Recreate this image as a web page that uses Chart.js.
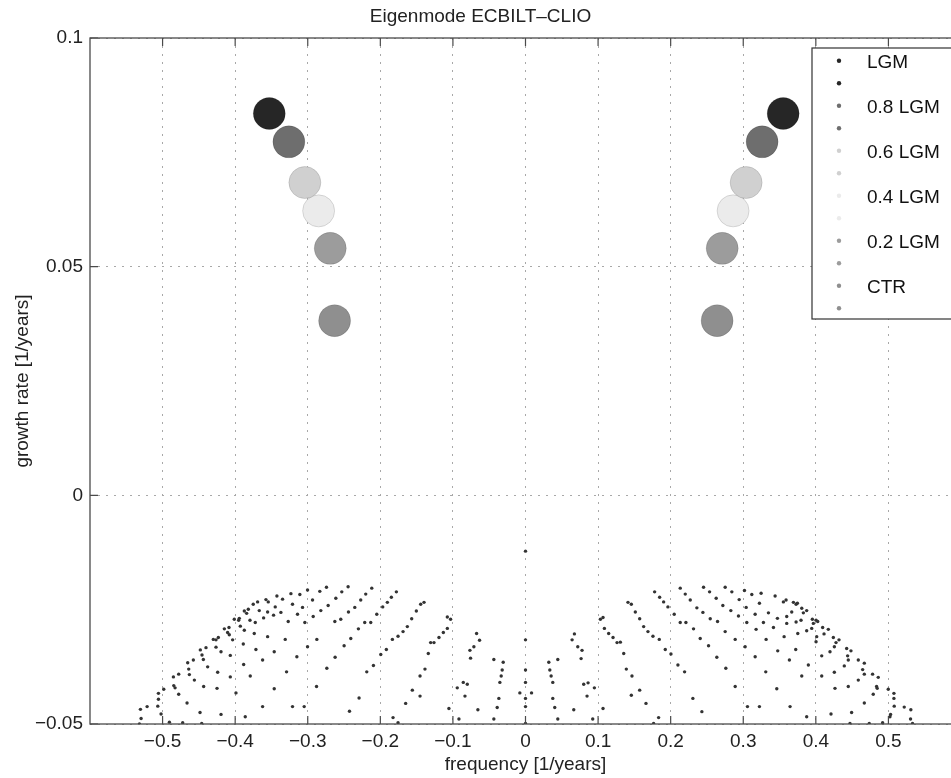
<!DOCTYPE html>
<html><head><meta charset="utf-8">
<script src="https://cdn.jsdelivr.net/npm/chart.js@4/dist/chart.umd.min.js"></script>
<style>
html,body{margin:0;padding:0;background:#fff;overflow:hidden;width:951px;height:778px}
#wrap{position:relative;width:1051px;height:778px}
canvas{display:block}
</style></head><body><div id="wrap"><canvas id="c" width="1051" height="778"></canvas></div>
<script>
const chartTitle = 'Eigenmode ECBILT\u2013CLIO';
const xTitle = 'frequency [1/years]';
const yTitle = 'growth rate [1/years]';
const xTickValues = [-0.5,-0.4,-0.3,-0.2,-0.1,0,0.1,0.2,0.3,0.4,0.5];
const xTickLabels = ['\u22120.5','\u22120.4','\u22120.3','\u22120.2','\u22120.1','0','0.1','0.2','0.3','0.4','0.5'];
const yTickValues = [-0.05,0,0.05,0.1];
const yTickLabels = ['\u22120.05','0','0.05','0.1'];

const caseNames = ['LGM','0.8 LGM','0.6 LGM','0.4 LGM','0.2 LGM','CTR'];
const caseColors = ['#262626','#6e6e6e','#d0d0d0','#ebebeb','#9c9c9c','#8f8f8f'];
const leadFreqNeg = [-0.353,-0.326,-0.304,-0.285,-0.269,-0.263];
const leadFreqPos = [0.355,0.326,0.304,0.286,0.271,0.264];
const leadGrowth = [0.0835,0.0773,0.0684,0.0622,0.0540,0.0382];

const isolatedMode = [[0,-0.0122]];
const spectrumCentre = [[0,-0.0316],[0,-0.0382],[0,-0.0409],[0,-0.0444],[0,-0.0462],[0,-0.0499]];
const spectrumLeft = [
[-0.5305,-0.0468],[-0.5213,-0.0462],[-0.5057,-0.0433],[-0.4984,-0.0424],[-0.4851,-0.0397],[-0.4778,-0.0391],[-0.4654,-0.0366],[-0.4576,-0.0360],[-0.4480,-0.0338],[-0.4402,-0.0333],[-0.4301,-0.0315],[-0.4232,-0.0311],[-0.4149,-0.0292],[-0.4085,-0.0289],[-0.4012,-0.0271],[-0.3943,-0.0269],[-0.3874,-0.0253],[-0.3819,-0.0249],[-0.3751,-0.0238],[-0.3691,-0.0233],[-0.3576,-0.0228],[-0.3544,-0.0233],[-0.3425,-0.0220],[-0.3347,-0.0227],[-0.3232,-0.0215],[-0.3109,-0.0217],[-0.3003,-0.0207],[-0.2834,-0.0210],[-0.2742,-0.0201],[-0.2531,-0.0211],[-0.2444,-0.0200],[-0.2201,-0.0216],[-0.2118,-0.0203],[-0.1848,-0.0223],[-0.1779,-0.0211],
[-0.5057,-0.0446],[-0.5066,-0.0461],[-0.5021,-0.0478],[-0.4846,-0.0416],[-0.4828,-0.0421],[-0.4778,-0.0435],[-0.4663,-0.0454],[-0.4640,-0.0380],[-0.4631,-0.0392],[-0.4562,-0.0404],[-0.4457,-0.0349],[-0.4438,-0.0359],[-0.4379,-0.0375],[-0.4434,-0.0418],[-0.4264,-0.0316],[-0.4264,-0.0332],[-0.4195,-0.0342],[-0.4241,-0.0387],[-0.4250,-0.0422],[-0.4104,-0.0300],[-0.4081,-0.0305],[-0.4035,-0.0316],[-0.4067,-0.0350],[-0.4067,-0.0397],[-0.3952,-0.0273],[-0.3929,-0.0286],[-0.3874,-0.0295],[-0.3888,-0.0325],[-0.3883,-0.0370],[-0.3989,-0.0432],[-0.3842,-0.0258],[-0.3796,-0.0273],[-0.3723,-0.0278],[-0.3737,-0.0302],[-0.3714,-0.0337],[-0.3792,-0.0395],[-0.3668,-0.0252],[-0.3608,-0.0268],[-0.3553,-0.0255],[-0.3471,-0.0262],[-0.3553,-0.0309],[-0.3622,-0.0360],[-0.3462,-0.0342],[-0.3462,-0.0423],[-0.3448,-0.0244],[-0.3370,-0.0256],[-0.3269,-0.0276],[-0.3310,-0.0315],[-0.3292,-0.0386],[-0.3622,-0.0462],[-0.3210,-0.0238],[-0.3141,-0.0260],[-0.3040,-0.0278],[-0.3003,-0.0331],[-0.3150,-0.0353],[-0.3210,-0.0462],[-0.3049,-0.0462],[-0.3072,-0.0245],[-0.2934,-0.0229],[-0.2820,-0.0252],[-0.2925,-0.0265],[-0.2875,-0.0315],[-0.2737,-0.0378],[-0.2879,-0.0418],[-0.2719,-0.0241],[-0.2627,-0.0276],[-0.2613,-0.0225],[-0.2499,-0.0329],[-0.2545,-0.0271],[-0.2623,-0.0354],[-0.2439,-0.0255],[-0.2407,-0.0313],[-0.2352,-0.0245],[-0.2302,-0.0292],[-0.2270,-0.0229],[-0.2215,-0.0278],[-0.2187,-0.0386],[-0.2132,-0.0278],[-0.2049,-0.0260],[-0.2095,-0.0372],[-0.2293,-0.0443],[-0.2425,-0.0472],[-0.1967,-0.0244],[-0.1994,-0.0348],[-0.1917,-0.0337],[-0.1903,-0.0234],[-0.1834,-0.0315],[-0.1756,-0.0308],[-0.1687,-0.0298],[-0.1628,-0.0287],[-0.1568,-0.0270],[-0.1504,-0.0253],[-0.1444,-0.0238],[-0.1398,-0.0234],[-0.1453,-0.0395],[-0.1453,-0.0439],[-0.1385,-0.0380],[-0.1559,-0.0426],[-0.1651,-0.0455],[-0.1825,-0.0486],[-0.1756,-0.0497],[-0.1339,-0.0346],[-0.1307,-0.0322],[-0.1261,-0.0322],[-0.1192,-0.0311],[-0.1132,-0.0300],[-0.1077,-0.0291],[-0.1077,-0.0266],[-0.1032,-0.0271],[-0.1055,-0.0466],[-0.0917,-0.0489],[-0.0940,-0.0421],[-0.0857,-0.0409],[-0.0802,-0.0413],[-0.0834,-0.0439],[-0.0656,-0.0469],[-0.0674,-0.0302],[-0.0633,-0.0317],[-0.0711,-0.0331],[-0.0766,-0.0339],[-0.0757,-0.0356],[-0.0436,-0.0359],[-0.0307,-0.0365],[-0.0321,-0.0382],[-0.0335,-0.0395],[-0.0353,-0.0409],[-0.0367,-0.0444],[-0.0390,-0.0464],[-0.0436,-0.0489],[-0.0078,-0.0432],
[-0.5319,-0.0500],[-0.5296,-0.0488],[-0.4906,-0.0496],[-0.4723,-0.0497],[-0.4461,-0.0499],[-0.4484,-0.0475],[-0.4195,-0.0479],[-0.3861,-0.0484]
];
const spectrumRight = [
[0.0083,-0.0432],[0.0321,-0.0365],[0.0445,-0.0359],[0.0335,-0.0382],[0.0353,-0.0395],[0.0376,-0.0409],[0.0376,-0.0444],[0.0403,-0.0464],[0.0445,-0.0489],
[0.0642,-0.0316],[0.0674,-0.0303],[0.0720,-0.0331],[0.0779,-0.0339],[0.0766,-0.0357],[0.0802,-0.0413],[0.0862,-0.0410],[0.0949,-0.0421],[0.0848,-0.0439],[0.0665,-0.0469],[0.0926,-0.0489],
[0.1032,-0.0271],[0.1068,-0.0267],[0.1087,-0.0291],[0.1146,-0.0302],[0.1206,-0.0311],[0.1261,-0.0322],[0.1307,-0.0321],[0.1353,-0.0346],[0.1389,-0.0380],[0.1467,-0.0395],[0.1458,-0.0437],[0.1573,-0.0426],[0.1660,-0.0455],[0.1068,-0.0466],[0.1765,-0.0499],[0.1834,-0.0486],
[0.1412,-0.0234],[0.1458,-0.0238],[0.1513,-0.0255],[0.1573,-0.0270],[0.1628,-0.0287],[0.1687,-0.0298],[0.1756,-0.0308],[0.1843,-0.0315],[0.1926,-0.0337],[0.2004,-0.0347],[0.2100,-0.0371],[0.2192,-0.0386],[0.2306,-0.0444],[0.2430,-0.0473],
[0.1779,-0.0211],[0.1848,-0.0223],[0.1903,-0.0233],[0.1962,-0.0244],[0.2049,-0.0260],[0.2132,-0.0278],[0.2210,-0.0278],[0.2315,-0.0292],[0.2407,-0.0313],[0.2522,-0.0329],[0.2636,-0.0354],[0.2760,-0.0378],[0.2889,-0.0418],[0.3058,-0.0462],[0.3223,-0.0462],
[0.2132,-0.0203],[0.2201,-0.0216],[0.2270,-0.0229],[0.2361,-0.0246],[0.2444,-0.0256],[0.2545,-0.0270],[0.2646,-0.0276],[0.2751,-0.0298],[0.2889,-0.0315],[0.3026,-0.0331],[0.3164,-0.0353],[0.3310,-0.0386],[0.3462,-0.0423],[0.3645,-0.0462],
[0.2453,-0.0201],[0.2536,-0.0211],[0.2627,-0.0225],[0.2719,-0.0241],[0.2829,-0.0252],[0.2934,-0.0264],[0.3049,-0.0278],[0.3177,-0.0293],[0.3315,-0.0315],[0.3475,-0.0340],[0.3636,-0.0360],[0.3806,-0.0395],[0.3874,-0.0484],
[0.2751,-0.0201],[0.2843,-0.0211],[0.2944,-0.0228],[0.3040,-0.0245],[0.3164,-0.0260],[0.3278,-0.0278],[0.3416,-0.0289],[0.3563,-0.0309],[0.3723,-0.0337],[0.3897,-0.0371],[0.4081,-0.0395],[0.4264,-0.0422],[0.4447,-0.0418],[0.4209,-0.0478],
[0.3017,-0.0208],[0.3118,-0.0217],[0.3223,-0.0236],[0.3347,-0.0257],[0.3471,-0.0269],[0.3599,-0.0280],[0.3751,-0.0302],[0.3874,-0.0296],[0.4003,-0.0320],[0.4081,-0.0351],[0.4255,-0.0387],[0.4392,-0.0373],[0.4493,-0.0475],[0.4470,-0.0499],
[0.3246,-0.0214],[0.3439,-0.0220],[0.3553,-0.0233],[0.3590,-0.0229],[0.3691,-0.0234],[0.3728,-0.0238],[0.3668,-0.0255],[0.3746,-0.0236],[0.3806,-0.0247],[0.3828,-0.0257],[0.3874,-0.0252],[0.3796,-0.0273],[0.3728,-0.0277],[0.3599,-0.0265],[0.3952,-0.0271],[0.3966,-0.0280],[0.4003,-0.0273],[0.4026,-0.0276],[0.3943,-0.0291],[0.4012,-0.0309],[0.4094,-0.0289],[0.4172,-0.0293],[0.4113,-0.0303],[0.4241,-0.0311],[0.4319,-0.0316],[0.4278,-0.0322],[0.4255,-0.0331],[0.4195,-0.0342],[0.4425,-0.0335],[0.4484,-0.0340],[0.4438,-0.0351],[0.4447,-0.0360],[0.4585,-0.0360],[0.4668,-0.0367],[0.4645,-0.0381],[0.4668,-0.0391],[0.4585,-0.0404],[0.4782,-0.0391],[0.4860,-0.0398],[0.4837,-0.0418],[0.4846,-0.0422],[0.4791,-0.0435],[0.4668,-0.0454],[0.4998,-0.0424],[0.5076,-0.0433],[0.5076,-0.0444],[0.5080,-0.0461],[0.5030,-0.0479],[0.5218,-0.0463],[0.5309,-0.0469],[0.5305,-0.0489],[0.5332,-0.0499],[0.4736,-0.0499],[0.4920,-0.0497],[0.5021,-0.0484]
];

const FONT = '"Liberation Sans", Arial, Helvetica, sans-serif';
const toPts = arr => arr.map(p => ({x: p[0], y: p[1]}));

const datasets = [];
datasets.push({
  label: 'spectrum',
  data: toPts(spectrumLeft.concat(spectrumCentre, spectrumRight, isolatedMode)),
  pointRadius: 1.7, pointBackgroundColor: '#333', pointBorderWidth: 0, pointHoverRadius: 1.7
});
caseNames.forEach((name, i) => {
  datasets.push({
    label: name,
    data: [{x: leadFreqNeg[i], y: leadGrowth[i]}, {x: leadFreqPos[i], y: leadGrowth[i]}],
    pointRadius: 16, pointHoverRadius: 16,
    pointBackgroundColor: caseColors[i],
    pointBorderColor: 'rgba(0,0,0,0.12)', pointBorderWidth: 1
  });
});

const framePlugin = {
  id: 'frame',
  afterDatasetsDraw(chart) {
    const {ctx, chartArea: a, scales: {x, y}} = chart;
    ctx.save();
    ctx.strokeStyle = '#4a4a4a';
    ctx.lineWidth = 1.3;
    ctx.strokeRect(a.left, a.top, a.right - a.left, a.bottom - a.top);
    ctx.lineWidth = 1.2;
    ctx.beginPath();
    xTickValues.forEach(v => {
      const px = x.getPixelForValue(v);
      ctx.moveTo(px, a.bottom); ctx.lineTo(px, a.bottom - 8);
      ctx.moveTo(px, a.top); ctx.lineTo(px, a.top + 8);
    });
    yTickValues.forEach(v => {
      const py = y.getPixelForValue(v);
      ctx.moveTo(a.left, py); ctx.lineTo(a.left + 8, py);
      ctx.moveTo(a.right, py); ctx.lineTo(a.right - 8, py);
    });
    ctx.stroke();

    // legend
    const lx = a.right - 149, ly = a.top + 10, lh = 271;
    ctx.fillStyle = '#fff';
    ctx.fillRect(lx, ly, 200, lh);
    ctx.strokeStyle = '#333';
    ctx.lineWidth = 1.2;
    ctx.strokeRect(lx, ly, 200, lh);
    ctx.font = '19px ' + FONT;
    ctx.textBaseline = 'middle';
    ctx.textAlign = 'left';
    caseNames.forEach((name, i) => {
      for (let k = 0; k < 2; k++) {
        const yy = ly + 12.7 + 22.5 * (2 * i + k);
        ctx.fillStyle = caseColors[i];
        ctx.beginPath();
        ctx.arc(lx + 27, yy, 2.2, 0, Math.PI * 2);
        ctx.fill();
        if (k === 0) {
          ctx.fillStyle = '#111';
          ctx.fillText(name, lx + 55, yy + 2);
        }
      }
    });
    ctx.restore();
  }
};

new Chart(document.getElementById('c'), {
  type: 'scatter',
  data: {datasets},
  options: {
    responsive: false,
    animation: false,
    events: [],
    layout: {padding: {top: 0, right: 90, bottom: 0, left: 0}},
    plugins: {
      legend: {display: false},
      tooltip: {enabled: false},
      title: {
        display: true, text: chartTitle, color: '#222',
        font: {family: FONT, size: 19, weight: 'normal', lineHeight: 1.2},
        padding: {top: 5, bottom: 10.2}
      }
    },
    scales: {
      x: {
        type: 'linear', min: -0.6, max: 0.6,
        afterBuildTicks: s => { s.ticks = xTickValues.map(v => ({value: v})); },
        afterFit: s => { s.height = 54; },
        ticks: {
          autoSkip: false, maxRotation: 0, padding: 6, color: '#222',
          font: {family: FONT, size: 19},
          callback: (v, i) => xTickLabels[i]
        },
        grid: {color: '#a8a8a8', lineWidth: 1, drawTicks: false},
        border: {display: false, dash: [2, 6]},
        title: {display: true, text: xTitle, color: '#222', font: {family: FONT, size: 19, lineHeight: 1.2}, padding: {top: 0, bottom: 2}}
      },
      y: {
        type: 'linear', min: -0.05, max: 0.1,
        afterBuildTicks: s => { s.ticks = yTickValues.map(v => ({value: v})); },
        afterFit: s => { s.width = 90; },
        ticks: {
          autoSkip: false, padding: 7, color: '#222',
          font: {family: FONT, size: 19},
          callback: (v, i) => yTickLabels[i]
        },
        grid: {color: '#a8a8a8', lineWidth: 1, drawTicks: false},
        border: {display: false, dash: [2, 6]},
        title: {display: true, text: yTitle, color: '#222', font: {family: FONT, size: 19, lineHeight: 1.2}, padding: {top: 11, bottom: 0}}
      }
    }
  },
  plugins: [framePlugin]
});
</script></body></html>
